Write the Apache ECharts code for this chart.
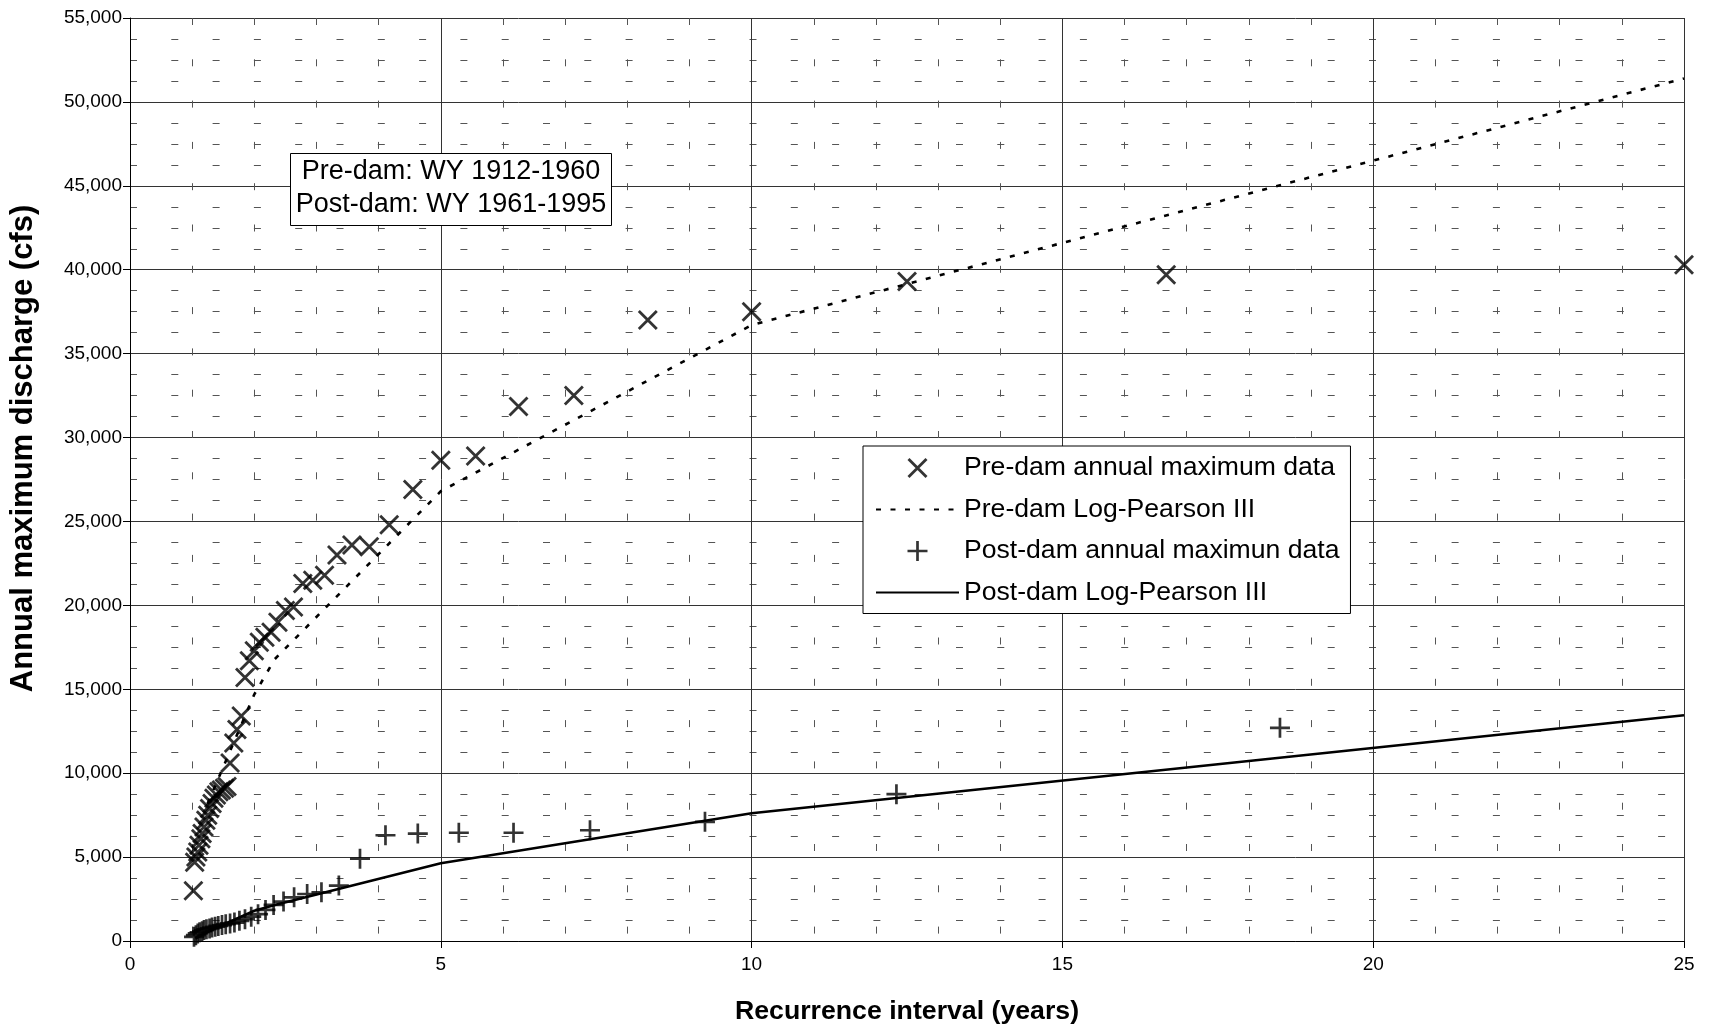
<!DOCTYPE html>
<html>
<head>
<meta charset="utf-8">
<script src="https://cdn.jsdelivr.net/npm/echarts@6/dist/echarts.min.js"></script>
<style>
html,body{margin:0;padding:0;background:#fff;}
#chart{width:1711px;height:1032px;}
</style>
</head>
<body>
<div id="chart"></div>
<script>
// ---- Data ----
// Pre-dam annual maximum data (recurrence interval in years, discharge in cfs)
const preT = [25.00, 16.67, 12.50, 10.00, 8.33, 7.14, 6.25, 5.56, 5.00, 4.55,
  4.17, 3.85, 3.57, 3.33, 3.13, 2.94, 2.78, 2.63, 2.50, 2.38,
  2.27, 2.17, 2.08, 2.00, 1.92, 1.85, 1.79, 1.72, 1.67, 1.61,
  1.56, 1.52, 1.47, 1.43, 1.39, 1.35, 1.32, 1.28, 1.25, 1.22,
  1.19, 1.16, 1.14, 1.11, 1.09, 1.06, 1.04, 1.02];
const preQ = [40300, 39700, 39300, 37500, 37000, 32500, 31850, 28900, 28650, 26900,
  24800, 23500, 23600, 23000, 21800, 21500, 21300, 19900, 19700, 19000,
  18400, 18100, 17800, 17300, 16700, 15700, 13400, 12600, 11800, 10600,
  9200, 9100, 9000, 8900, 8700, 8500, 8200, 7900, 7500, 7200,
  6800, 6400, 6100, 5700, 5300, 5000, 4700, 3000];

// Post-dam annual maximum data
const postT = [18.50, 12.33, 9.25, 7.40, 6.17, 5.29, 4.63, 4.11, 3.70, 3.36,
  3.08, 2.85, 2.64, 2.47, 2.31, 2.18, 2.06, 1.95, 1.85, 1.76,
  1.68, 1.61, 1.54, 1.48, 1.42, 1.37, 1.32, 1.28, 1.23, 1.19,
  1.16, 1.12, 1.09, 1.06, 1.03];
const postQ = [12700, 8750, 7100, 6600, 6450, 6450, 6400, 6300, 4900, 3300,
  2900, 2800, 2600, 2350, 2150, 1850, 1600, 1450, 1300, 1200,
  1100, 1050, 1000, 950, 900, 850, 800, 750, 700, 650,
  580, 520, 450, 350, 250];

// Log-Pearson III fitted curves
const lp3PreT = [1.25, 2.00, 2.33, 5.00, 10.00, 25.00];
const lp3PreQ = [8200, 14700, 16800, 26800, 36700, 51400];
const lp3PostT = [1.05, 1.25, 2.00, 2.33, 5.00, 10.00, 25.00];
const lp3PostQ = [150, 550, 1800, 2150, 4630, 7610, 13450];

// Axis ticks
const xTicks = [0, 5, 10, 15, 20, 25];
const yTicks = [0, 5000, 10000, 15000, 20000, 25000, 30000, 35000, 40000, 45000, 50000, 55000];

const seriesNames = [
  'Pre-dam annual maximum data',
  'Pre-dam Log-Pearson III',
  'Post-dam annual maximun data',
  'Post-dam Log-Pearson III'
];
const boxLines = ['Pre-dam: WY 1912-1960', 'Post-dam: WY 1961-1995'];

// ---- Build ----
const pairs = (xs, ys) => xs.map((x, i) => [x, ys[i]]);
const FONT = '"Liberation Sans", Arial, Helvetica, sans-serif';
const X_PATH = 'path://M2,0 L20,18 L18,20 L0,2 Z M18,0 L20,2 L2,20 L0,18 Z';
const PLUS_PATH = 'path://M8.65,0 H11.35 V8.65 H20 V11.35 H11.35 V20 H8.65 V11.35 H0 V8.65 H8.65 Z';

const chart = echarts.init(document.getElementById('chart'), null, {renderer: 'canvas'});

const option = {
  animation: false,
  backgroundColor: '#fff',
  grid: {left: 129, top: 18, right: 27, bottom: 91, containLabel: false},
  xAxis: {
    type: 'value',
    min: xTicks[0], max: xTicks[xTicks.length - 1], interval: xTicks[1] - xTicks[0],
    name: 'Recurrence interval (years)',
    nameLocation: 'middle', nameGap: 57,
    nameTextStyle: {fontFamily: FONT, fontSize: 26.7, fontWeight: 'bold', color: '#000'},
    axisLine: {show: true, onZero: false, lineStyle: {color: '#000', width: 1}},
    axisTick: {show: true, inside: false, length: 7, lineStyle: {color: '#000'}},
    minorTick: {show: false, splitNumber: 5},
    axisLabel: {fontFamily: FONT, fontSize: 19, color: '#000', margin: 14},
    splitLine: {show: true, lineStyle: {color: '#333', width: 1}},
    minorSplitLine: {show: true, lineStyle: {color: '#555', width: 1, type: [7, 34.3]}}
  },
  yAxis: {
    type: 'value',
    min: yTicks[0], max: yTicks[yTicks.length - 1], interval: yTicks[1] - yTicks[0],
    name: 'Annual maximum discharge (cfs)',
    nameLocation: 'middle', nameGap: 91,
    nameTextStyle: {fontFamily: FONT, fontSize: 31, fontWeight: 'bold', color: '#000', padding: [0, 0, 0, 62]},
    axisLine: {show: true, lineStyle: {color: '#000', width: 1}},
    axisTick: {show: true, inside: false, length: 7, lineStyle: {color: '#000'}},
    minorTick: {show: false, splitNumber: 4},
    axisLabel: {fontFamily: FONT, fontSize: 19, color: '#000', margin: 8,
      formatter: v => v.toLocaleString('en-US')},
    splitLine: {show: true, lineStyle: {color: '#333', width: 1}},
    minorSplitLine: {show: true, lineStyle: {color: '#555', width: 1, type: [7, 34.3]}}
  },
  legend: {
    orient: 'vertical', left: 863, top: 446,
    padding: [7, 11, 6, 12], itemGap: 11.5, itemWidth: 83, itemHeight: 20,
    backgroundColor: '#fff', borderColor: '#000', borderWidth: 1,
    textStyle: {fontFamily: FONT, fontSize: 26.6, color: '#000', lineHeight: 30},
    selectedMode: false,
    data: seriesNames
  },
  graphic: [
    {type: 'rect', z: 100, shape: {x: 290.5, y: 153.5, width: 321, height: 72},
      style: {fill: '#fff', stroke: '#000', lineWidth: 1}},
    {type: 'text', z: 101, style: {x: 451, y: 188.5, text: boxLines.join('\n'),
      font: '27px ' + FONT, fill: '#000', align: 'center', verticalAlign: 'middle', lineHeight: 33}}
  ],
  series: [
    {name: seriesNames[0], type: 'scatter', data: pairs(preT, preQ),
      symbol: X_PATH, symbolSize: 20, symbolKeepAspect: true,
      itemStyle: {color: '#000'}, emphasis: {disabled: true}, z: 3},
    {name: seriesNames[1], type: 'line', data: pairs(lp3PreT, lp3PreQ),
      symbol: 'none', showSymbol: false,
      itemStyle: {color: 'rgba(0,0,0,0)'},
      lineStyle: {color: '#000', width: 2.6, type: [5, 9.5]}, emphasis: {disabled: true}, z: 2},
    {name: seriesNames[2], type: 'scatter', data: pairs(postT, postQ),
      symbol: PLUS_PATH, symbolSize: 20, symbolKeepAspect: true,
      itemStyle: {color: '#000'}, emphasis: {disabled: true}, z: 3},
    {name: seriesNames[3], type: 'line', data: pairs(lp3PostT, lp3PostQ),
      symbol: 'none', showSymbol: false,
      itemStyle: {color: 'rgba(0,0,0,0)'},
      lineStyle: {color: '#000', width: 2.6}, emphasis: {disabled: true}, z: 2}
  ]
};
chart.setOption(option);
</script>
</body>
</html>
